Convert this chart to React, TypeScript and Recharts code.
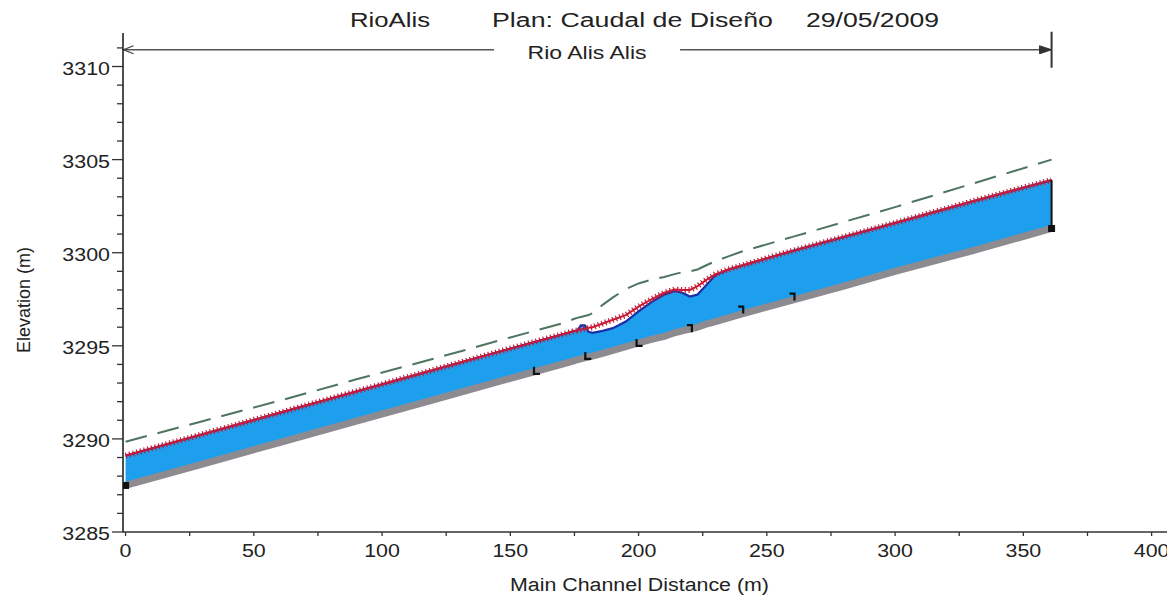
import React from "react";
import {
  ComposedChart,
  Area,
  Line,
  Scatter,
  XAxis,
  YAxis,
  ReferenceLine,
} from "recharts";

// stations along the main channel (m)
const stations = [0, 30, 60, 90, 120, 150, 170, 175, 176, 177.5, 179, 180.5, 182, 186, 190, 195, 200, 205, 210, 214, 217, 220, 223, 226, 230, 235, 240, 260, 280, 300, 330, 361];

// ground (channel bed) elevation
const bedElev = [3287.5, 3288.65, 3289.8, 3290.95, 3292.1, 3293.25, 3294.0, 3294.2, 3294.25, 3294.3, 3294.35, 3294.4, 3294.45, 3294.6, 3294.75, 3294.95, 3295.15, 3295.35, 3295.5, 3295.7, 3295.8, 3295.9, 3296.0, 3296.15, 3296.3, 3296.5, 3296.7, 3297.45, 3298.2, 3299.0, 3300.1, 3301.3];

// water surface
const wsElev = [3289.1, 3290.25, 3291.4, 3292.55, 3293.7, 3294.85, 3295.6, 3295.8, 3295.8, 3296.1, 3296.1, 3295.75, 3295.7, 3295.8, 3295.95, 3296.3, 3296.85, 3297.35, 3297.75, 3297.95, 3297.85, 3297.65, 3297.75, 3298.2, 3298.8, 3299.1, 3299.3, 3300.1, 3300.85, 3301.6, 3302.75, 3303.9];

// critical depth
const critElev = [3289.1, 3290.25, 3291.4, 3292.55, 3293.7, 3294.85, 3295.6, 3295.8, 3295.82, 3295.88, 3295.92, 3295.97, 3296.0, 3296.2, 3296.4, 3296.65, 3297.1, 3297.5, 3297.85, 3298.02, 3298.0, 3298.0, 3298.2, 3298.5, 3298.85, 3299.1, 3299.3, 3300.1, 3300.85, 3301.6, 3302.75, 3303.9];

// energy grade line
const egElev = [3289.85, 3290.95, 3292.05, 3293.2, 3294.3, 3295.45, 3296.2, 3296.45, 3296.5, 3296.55, 3296.6, 3296.65, 3296.75, 3297.2, 3297.6, 3298.05, 3298.35, 3298.55, 3298.7, 3298.85, 3298.95, 3299.0, 3299.1, 3299.3, 3299.55, 3299.8, 3300.05, 3300.85, 3301.65, 3302.45, 3303.7, 3305.0];

// bank station markers
const bankX = [160, 180, 200, 220, 240, 260];
const bankY = [3293.55, 3294.35, 3295.05, 3296.0, 3297.0, 3297.7];

const xTicks = [0, 25, 50, 75, 100, 125, 150, 175, 200, 225, 250, 275, 300, 325, 350, 375, 400];
const yTicks = [3285, 3286, 3287, 3288, 3289, 3290, 3291, 3292, 3293, 3294, 3295, 3296, 3297, 3298, 3299, 3300, 3301, 3302, 3303, 3304, 3305, 3306, 3307, 3308, 3309, 3310, 3311];

const table = stations.map((x, i) => ({
  x,
  bed: bedElev[i],
  ws: wsElev[i],
  crit: critElev[i],
  eg: egElev[i],
}));
const banks = bankX.map((x, i) => ({ x, y: bankY[i] }));
const last = stations.length - 1;
const ends = [
  { x: stations[0], y: bedElev[0] },
  { x: stations[last], y: bedElev[last] },
];

const FONT = "'Liberation Sans', Arial, sans-serif";
const INK = "#222";
const STRETCH = 1.19; // text in the reference is widened horizontally

const YTick = (props: any) => {
  const { x, y, payload } = props;
  const v = payload.value;
  const major = v % 5 === 0;
  return (
    <g>
      <line x1={x - (major ? 11 : 6)} x2={x} y1={y} y2={y} stroke="#333" strokeWidth={1.3} />
      {major && (
        <text x={x - 13} y={y + 8} textAnchor="end" fontSize={18} fontFamily={FONT} fill={INK}
          textLength={String(v).length * 0.556 * 18 * STRETCH} lengthAdjust="spacingAndGlyphs">
          {v}
        </text>
      )}
    </g>
  );
};

const XTick = (props: any) => {
  const { x, y, payload } = props;
  const v = payload.value;
  return (
    <g>
      <line x1={x} x2={x} y1={y} y2={y + 4} stroke="#333" strokeWidth={1.3} />
      {v % 50 === 0 && (
        <text x={x} y={y + 25} textAnchor="middle" fontSize={18} fontFamily={FONT} fill={INK}
          textLength={String(v).length * 0.556 * 18 * STRETCH} lengthAdjust="spacingAndGlyphs">
          {v}
        </text>
      )}
    </g>
  );
};

const RiverArrow = (props: any) => {
  const x1 = Number(props.x1) - 3;
  const x2 = Number(props.x2);
  const y = Number(props.y1);
  const cx = (x1 + x2) / 2;
  return (
    <g>
      <line x1={x1} y1={y} x2={cx - 93} y2={y} stroke="#555" strokeWidth={1.5} />
      <line x1={cx + 93} y1={y} x2={x2} y2={y} stroke="#555" strokeWidth={1.5} />
      <path d={`M${x1 + 11},${y - 4} L${x1 + 1},${y} L${x1 + 11},${y + 4}`} fill="none" stroke="#444" strokeWidth={1.3} />
      <path d={`M${x2 - 12},${y - 4} L${x2},${y} L${x2 - 12},${y + 4} Z`} fill="#333" stroke="#333" strokeWidth={1} />
      <line x1={x2} y1={y - 18} x2={x2} y2={y + 18} stroke="#333" strokeWidth={2} />
      <text x={cx} y={y + 9} textAnchor="middle" fontSize={18} fontFamily={FONT} fill={INK}
        textLength={119} lengthAdjust="spacingAndGlyphs">
        Rio Alis Alis
      </text>
    </g>
  );
};

const BankMark = (props: any) => {
  const { cx, cy, payload } = props;
  const d = payload.x <= 200
    ? `M${cx - 2},${cy - 6} L${cx - 2},${cy + 1} L${cx + 4},${cy + 1}`
    : `M${cx - 3},${cy - 2} L${cx + 2},${cy - 2} L${cx + 2},${cy + 5}`;
  return <path d={d} fill="none" stroke="#111" strokeWidth={2.2} />;
};

const EndMark = (props: any) => {
  const { cx, cy } = props;
  return <rect x={cx - 3.5} y={cy - 3.5} width={7} height={7} fill="#111" />;
};

export default function App() {
  return (
    <div style={{ position: "absolute", left: 0, top: 0, width: 1167, height: 601, background: "#fff" }}>
      <ComposedChart width={1167} height={601} data={table} margin={{ top: 33, right: 0, left: 0, bottom: 0 }}>
        <XAxis
          type="number"
          dataKey="x"
          domain={[-1, 406]}
          ticks={xTicks}
          interval={0}
          allowDataOverflow
          height={69}
          tickSize={0}
          tickMargin={0}
          tickLine={false}
          axisLine={{ stroke: "#333", strokeWidth: 1.5 }}
          tick={<XTick />}
        />
        <YAxis
          type="number"
          domain={[3285, 3311.8]}
          ticks={yTicks}
          interval={0}
          allowDataOverflow
          width={123}
          tickSize={0}
          tickMargin={0}
          tickLine={false}
          axisLine={{ stroke: "#222", strokeWidth: 1.6 }}
          tick={<YTick />}
        />
        <Area
          type="linear"
          dataKey={(d: any) => [d.bed, d.ws]}
          fill="#1e9fee"
          fillOpacity={1}
          stroke="none"
          isAnimationActive={false}
        />
        <Line type="linear" dataKey="bed" stroke="#8e8b90" strokeWidth={7} dot={false} isAnimationActive={false} />
        <Line type="linear" dataKey="eg" stroke="#4d7560" strokeWidth={2} strokeDasharray="22 11" dot={false} isAnimationActive={false} />
        <Line type="linear" dataKey="ws" stroke="#1b2ea6" strokeWidth={2.2} dot={false} isAnimationActive={false} />
        <Line type="linear" dataKey="crit" stroke="#c81a36" strokeWidth={2} dot={false} isAnimationActive={false} />
        <Line type="linear" dataKey="crit" stroke="#c81a36" strokeWidth={6} strokeDasharray="1.2 2.6" dot={false} isAnimationActive={false} />
        <ReferenceLine
          segment={[{ x: stations[last], y: bedElev[last] }, { x: stations[last], y: wsElev[last] }]}
          stroke="#111"
          strokeWidth={2}
        />
        <Scatter data={banks} dataKey="y" shape={<BankMark />} isAnimationActive={false} />
        <Scatter data={ends} dataKey="y" shape={<EndMark />} isAnimationActive={false} />
        <ReferenceLine
          segment={[{ x: stations[0], y: 3310.9 }, { x: stations[last], y: 3310.9 }]}
          shape={<RiverArrow />}
        />
      </ComposedChart>
      <svg width={1167} height={601} style={{ position: "absolute", left: 0, top: 0, pointerEvents: "none" }}>
        <g fontFamily={FONT} fill={INK} fontSize={20}>
          <text x={350} y={27} textLength={80} lengthAdjust="spacingAndGlyphs">RioAlis</text>
          <text x={492} y={27} textLength={281} lengthAdjust="spacingAndGlyphs">Plan: Caudal de Diseño</text>
          <text x={806} y={27} textLength={133} lengthAdjust="spacingAndGlyphs">29/05/2009</text>
        </g>
        <text x={510} y={591} fontSize={18} fontFamily={FONT} fill={INK} textLength={259} lengthAdjust="spacingAndGlyphs">
          Main Channel Distance (m)
        </text>
        <text x={30} y={300} transform="rotate(-90 30 300)" textAnchor="middle" fontSize={18} fontFamily={FONT} fill={INK}
          textLength={106} lengthAdjust="spacingAndGlyphs">
          Elevation (m)
        </text>
      </svg>
    </div>
  );
}
